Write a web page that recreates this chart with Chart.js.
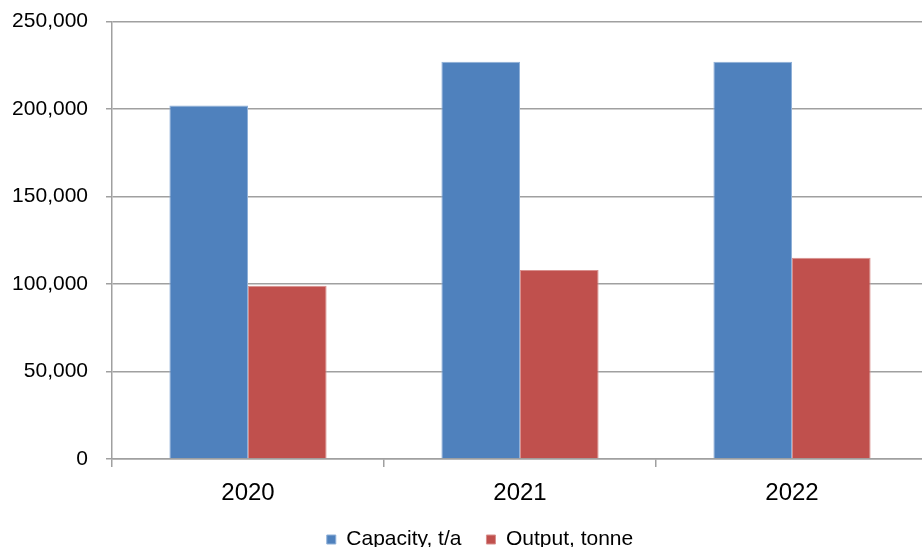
<!DOCTYPE html>
<html>
<head>
<meta charset="utf-8">
<script src="https://cdn.jsdelivr.net/npm/chart.js@4/dist/chart.umd.min.js"></script>
<style>
  html, body { margin: 0; padding: 0; background: #fff; overflow: hidden; }
  #wrap { width: 958px; height: 569px; margin-top: -9px; }
</style>
</head>
<body>
<div id="wrap"><canvas id="chart" width="958" height="569"></canvas></div>
<script>
var years = ['2020', '2021', '2022'];
var capacity = [202000, 227000, 227000];
var output = [99000, 108000, 115000];
var yTicks = [0, 50000, 100000, 150000, 200000, 250000];

var gridGray = '#a0a0a0';
var font = 'Liberation Sans, Arial, sans-serif';

// nudge the legend a little to the right of centre
var legendShift = {
    id: 'legendShift',
    afterLayout: function(chart) {
        chart.legend.left += 16;
        chart.legend.right += 16;
    }
};

var ctx = document.getElementById('chart');
var myChart = new Chart(ctx, {
    type: 'bar',
    data: {
        labels: years,
        datasets: [{
            label: 'Capacity, t/a',
            data: capacity,
            backgroundColor: '#4f81bd',
            borderColor: '#8fb0d8',
            borderWidth: 1,
            categoryPercentage: 0.578,
            barPercentage: 1.0
        }, {
            label: 'Output, tonne',
            data: output,
            backgroundColor: '#c0504d',
            borderColor: '#d88f8d',
            borderWidth: 1,
            categoryPercentage: 0.578,
            barPercentage: 1.0
        }]
    },
    plugins: [legendShift],
    options: {
        responsive: false,
        animation: false,
        layout: {
            // plot runs past the right edge of the page
            padding: { top: 1, right: 30, left: 0, bottom: 0 }
        },
        plugins: {
            tooltip: { enabled: false },
            legend: {
                position: 'bottom',
                labels: {
                    color: '#000',
                    font: { family: font, size: 21 },
                    boxWidth: 9,
                    boxHeight: 9,
                    padding: 25
                }
            }
        },
        scales: {
            x: {
                offset: true,
                grid: {
                    offset: true,
                    drawOnChartArea: false,
                    drawTicks: true,
                    tickLength: 8,
                    color: gridGray,
                    lineWidth: 1.5
                },
                border: { color: gridGray, width: 1.5 },
                ticks: {
                    color: '#000',
                    font: { family: font, size: 24 },
                    padding: 12
                },
                afterFit: function(scale) {
                    scale.height = 45;
                }
            },
            y: {
                min: 0,
                max: 250000,
                afterBuildTicks: function(scale) {
                    scale.ticks = yTicks.map(function(v) { return { value: v }; });
                },
                grid: {
                    color: gridGray,
                    lineWidth: 1.5,
                    drawTicks: true,
                    tickLength: 6
                },
                border: { color: gridGray, width: 1.5 },
                ticks: {
                    color: '#000',
                    font: { family: font, size: 21 },
                    padding: 18,
                    callback: function(v) {
                        return v.toLocaleString('en-US');
                    }
                },
                afterFit: function(scale) {
                    scale.width = 112;
                }
            }
        }
    }
});
</script>
</body>
</html>
